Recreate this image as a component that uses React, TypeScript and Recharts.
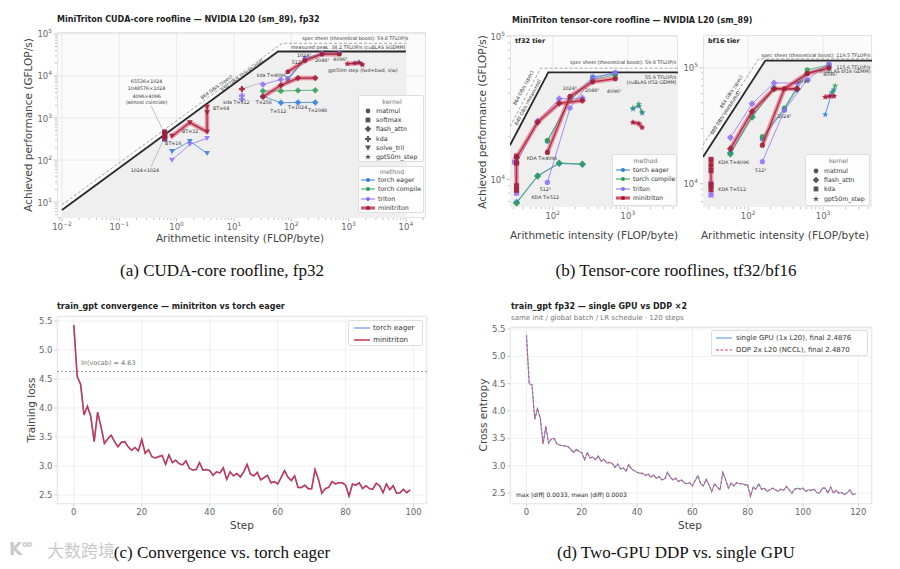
import React from 'react';
import { ComposedChart, LineChart, Line, Scatter, XAxis, YAxis, CartesianGrid, ReferenceLine } from 'recharts';

const FONT = '"DejaVu Sans", sans-serif';
const SERIF = '"Liberation Serif", "DejaVu Serif", serif';

const EAGER = '#2f7ed8';
const COMPILE = '#2f9e55';
const TRITON = '#8f6df2';
const MINI = '#9d1d3a';
const HALO = '#e2435d';
const METHOD_COLOR: Record<string, string> = { eager: EAGER, compile: COMPILE, triton: TRITON, mini: MINI };
const METHOD_ORDER = ['eager', 'compile', 'triton', 'mini'];

type Shape = 'circle' | 'square' | 'diamond' | 'plus' | 'tri' | 'star';
type Method = 'eager' | 'compile' | 'triton' | 'mini';
type Group = { k: Shape; m: Method; xs: number[]; ys: number[] };
type Note = { x: number; y: number; t: string; a?: 'start' | 'middle' | 'end'; r?: number; fs?: number };

// ---------- (a) CUDA-core roofline, fp32 (AI in FLOP/byte, perf in GFLOP/s)
const fp32RoofMeasAI = [0.01, 58.8, 10000];
const fp32RoofMeas = [6.5, 38200, 38200];
const fp32RoofSpecAI = [0.01, 69.2, 10000];
const fp32RoofSpec = [8.64, 59800, 59800];

const fp32SoftmaxAI = [0.62, 0.62, 0.62, 0.62];
const fp32SoftmaxEager = [310, 340, 380, 430];
const fp32SoftmaxCompile = [320, 350, 390, 440];
const fp32SoftmaxTriton = [315, 345, 385, 450];
const fp32SoftmaxMini = [330, 370, 420, 470];
const fp32TrilAI = [0.83, 1.7, 3.4];
const fp32TrilEager = [160, 280, 145];
const fp32TrilTriton = [100, 235, 330];
const fp32TrilMiniAI = [0.83, 1.7, 3.4, 3.4, 3.4];
const fp32TrilMini = [370, 780, 470, 1350, 1850];
const fp32KdaAI = [13.8, 13.8];
const fp32KdaTriton = [3400, 2800];
const fp32KdaMiniAI = [13.8];
const fp32KdaMini = [4900];
const fp32FlashAI = [32, 66, 131, 263];
const fp32FlashEager = [3300, 2300, 2350, 2350];
const fp32FlashCompile = [4400, 4400, 4500, 4600];
const fp32FlashTritonAI = [32, 66];
const fp32FlashTriton = [6300, 8200];
const fp32FlashMini = [3200, 6000, 8900, 8900];
const fp32MatmulAI = [87, 174, 345, 690];
const fp32MatmulEager = [8000, 25000, 33000, 34000];
const fp32MatmulCompile = [8500, 25500, 33500, 34500];
const fp32MatmulTriton = [8700, 26500, 34500, 35000];
const fp32MatmulMini = [12500, 23000, 33000, 33000];
const fp32GptAI = [950, 1300, 1550, 1750];
const fp32GptMini = [19500, 20000, 20500, 18500];
const fp32GptEagerAI = [1250, 1500, 1700];
const fp32GptEager = [20500, 21500, 19000];

// ---------- (b) tensor-core, tf32 tier
const tf32RoofMeasAI = [27, 87.3, 4650];
const tf32RoofMeas = [17300, 55900, 55900];
const tf32RoofSpecAI = [27, 69.2, 4650];
const tf32RoofSpec = [23300, 59800, 59800];

const tf32KdaAI = [33, 33, 33, 33];
const tf32KdaMini = [14500, 13000, 9000, 8400];
const tf32KdaTritonAI = [31, 33];
const tf32KdaTriton = [13200, 8000];
const tf32FlashAI = [33, 63, 122, 248];
const tf32FlashEager = [6900, 10600, 12900, 12700];
const tf32FlashCompile = [6800, 10500, 13000, 12800];
const tf32FlashTriton = [13000, 25500, 36500, 37000];
const tf32FlashMini = [14200, 25000, 34000, 35500];
const tf32MatmulAI = [85, 170, 340, 680];
const tf32MatmulEager = [18500, 36000, 52000, 54500];
const tf32MatmulCompile = [18700, 35500, 50000, 53500];
const tf32MatmulTriton = [9500, 31500, 50500, 56000];
const tf32MatmulMini = [15400, 38000, 48000, 50500];
const tf32GptAI = [1170, 1400, 1550];
const tf32GptEager = [31000, 32500, 29000];
const tf32GptCompile = [31500, 33500, 29500];
const tf32GptMini = [25000, 24500, 23000];

// ---------- (b) tensor-core, bf16 tier
const bf16RoofMeasAI = [25, 170, 4500];
const bf16RoofMeas = [17000, 115600, 115600];
const bf16RoofSpecAI = [25, 138.3, 4500];
const bf16RoofSpec = [21600, 119500, 119500];

const bf16KdaAI = [32, 32, 32, 32, 32];
const bf16KdaMini = [16200, 14500, 13000, 9800, 8900];
const bf16KdaTritonAI = [32, 32];
const bf16KdaTriton = [10000, 8000];
const bf16FlashAI = [58, 113, 222, 450];
const bf16FlashEager = [18500, 38000, 67000, 65000];
const bf16FlashCompile = [18000, 37500, 66000, 66000];
const bf16FlashTriton = [25000, 49000, 74000, 74000];
const bf16FlashMini = [20000, 42000, 66000, 66000];
const bf16MatmulAI = [155, 305, 615, 1200];
const bf16MatmulEager = [24500, 44000, 90000, 104000];
const bf16MatmulCompile = [25500, 45000, 96000, 106000];
const bf16MatmulTriton = [15500, 43000, 79000, 108000];
const bf16MatmulMini = [21500, 66000, 89000, 100000];
const bf16GptAI = [1070, 1230, 1400];
const bf16GptMini = [56000, 57000, 57000];
const bf16GptEagerAI = [1070, 1310, 1400];
const bf16GptEager = [39500, 61000, 65000];
const bf16GptCompileAI = [1350, 1450];
const bf16GptCompile = [62000, 70000];

// ---------- (c) convergence, 100 steps
const convMini = [
  5.43, 4.54, 4.41, 3.88, 4.03, 3.85, 3.42, 3.93, 3.68, 3.39,
  3.47, 3.53, 3.42, 3.33, 3.41, 3.42, 3.33, 3.27, 3.32, 3.26,
  3.46, 3.22, 3.28, 3.16, 3.14, 3.16, 3.18, 3.03, 3.19, 3.06,
  3.10, 3.04, 3.02, 3.09, 2.96, 2.93, 2.94, 3.06, 2.93, 2.94,
  2.92, 2.84, 2.90, 2.88, 2.97, 2.77, 2.90, 2.83, 2.87, 2.81,
  2.90, 3.03, 2.86, 2.83, 2.89, 2.76, 2.80, 2.84, 2.71, 2.73,
  2.69, 2.80, 2.92, 2.81, 2.75, 2.83, 2.63, 2.63, 2.67, 2.61,
  2.61, 2.94, 2.77, 2.53, 2.61, 2.63, 2.73, 2.69, 2.71, 2.71,
  2.67, 2.48, 2.69, 2.67, 2.71, 2.61, 2.66, 2.61, 2.60, 2.70,
  2.66, 2.54, 2.69, 2.59, 2.66, 2.53, 2.54, 2.60, 2.54, 2.59,
];
const convEager = [
  5.43, 4.54, 4.40, 3.88, 4.03, 3.86, 3.42, 3.92, 3.68, 3.39,
  3.47, 3.53, 3.42, 3.34, 3.41, 3.42, 3.33, 3.27, 3.32, 3.26,
  3.45, 3.22, 3.28, 3.16, 3.14, 3.17, 3.18, 3.03, 3.19, 3.06,
  3.10, 3.04, 3.02, 3.09, 2.96, 2.93, 2.94, 3.05, 2.93, 2.94,
  2.92, 2.84, 2.90, 2.88, 2.97, 2.77, 2.90, 2.83, 2.87, 2.81,
  2.90, 3.02, 2.86, 2.83, 2.89, 2.76, 2.80, 2.84, 2.71, 2.73,
  2.69, 2.80, 2.92, 2.81, 2.75, 2.83, 2.63, 2.63, 2.67, 2.61,
  2.61, 2.93, 2.77, 2.53, 2.61, 2.63, 2.73, 2.69, 2.71, 2.71,
  2.67, 2.48, 2.69, 2.67, 2.71, 2.61, 2.66, 2.61, 2.60, 2.70,
  2.66, 2.54, 2.69, 2.59, 2.66, 2.53, 2.54, 2.60, 2.54, 2.59,
];

// ---------- (d) single GPU vs DDP, 120 steps
const ddpSingle = [
  5.39, 4.50, 4.48, 3.85, 4.05, 3.87, 3.40, 3.72, 3.41, 3.49,
  3.50, 3.40, 3.38, 3.37, 3.36, 3.35, 3.30, 3.24, 3.30, 3.26,
  3.24, 3.11, 3.24, 3.14, 3.16, 3.11, 3.18, 3.08, 3.12, 3.05,
  3.06, 3.04, 2.97, 3.03, 2.94, 2.96, 2.90, 3.02, 2.94, 2.91,
  2.88, 2.86, 2.86, 2.82, 2.85, 2.79, 2.83, 2.77, 2.80, 2.74,
  2.76, 2.88, 2.79, 2.74, 2.77, 2.71, 2.74, 2.69, 2.67, 2.69,
  2.63, 2.73, 2.82, 2.67, 2.63, 2.75, 2.65, 2.53, 2.67, 2.61,
  2.56, 2.88, 2.75, 2.59, 2.68, 2.63, 2.69, 2.67, 2.67, 2.65,
  2.65, 2.44, 2.61, 2.57, 2.67, 2.57, 2.59, 2.53, 2.56, 2.59,
  2.56, 2.53, 2.57, 2.55, 2.62, 2.56, 2.50, 2.57, 2.59, 2.57,
  2.59, 2.53, 2.56, 2.55, 2.57, 2.51, 2.50, 2.59, 2.59, 2.50,
  2.61, 2.50, 2.55, 2.50, 2.51, 2.47, 2.51, 2.56, 2.47, 2.488,
];
const ddpDual = [
  5.39, 4.50, 4.48, 3.85, 4.05, 3.87, 3.40, 3.72, 3.41, 3.49,
  3.50, 3.40, 3.38, 3.37, 3.36, 3.35, 3.30, 3.24, 3.30, 3.26,
  3.24, 3.11, 3.24, 3.14, 3.16, 3.11, 3.18, 3.08, 3.12, 3.05,
  3.06, 3.04, 2.97, 3.03, 2.94, 2.96, 2.90, 3.02, 2.94, 2.91,
  2.88, 2.86, 2.86, 2.82, 2.85, 2.79, 2.83, 2.77, 2.80, 2.74,
  2.76, 2.88, 2.79, 2.74, 2.77, 2.71, 2.74, 2.69, 2.67, 2.69,
  2.63, 2.73, 2.82, 2.67, 2.63, 2.75, 2.65, 2.53, 2.67, 2.61,
  2.56, 2.88, 2.75, 2.59, 2.68, 2.63, 2.69, 2.67, 2.67, 2.65,
  2.65, 2.44, 2.61, 2.57, 2.67, 2.57, 2.59, 2.53, 2.56, 2.59,
  2.56, 2.53, 2.57, 2.55, 2.62, 2.56, 2.50, 2.57, 2.59, 2.57,
  2.59, 2.53, 2.56, 2.55, 2.57, 2.51, 2.50, 2.59, 2.59, 2.50,
  2.61, 2.50, 2.55, 2.50, 2.51, 2.47, 2.51, 2.56, 2.47, 2.487,
];

const convSteps = [0, 20, 40, 60, 80, 100];
const ddpSteps = [0, 20, 40, 60, 80, 100, 120];
const lossTicks = [2.5, 3.0, 3.5, 4.0, 4.5, 5.0, 5.5];

const fp32Groups: Group[] = [
  { k: 'square', m: 'eager', xs: fp32SoftmaxAI, ys: fp32SoftmaxEager },
  { k: 'square', m: 'compile', xs: fp32SoftmaxAI, ys: fp32SoftmaxCompile },
  { k: 'square', m: 'triton', xs: fp32SoftmaxAI, ys: fp32SoftmaxTriton },
  { k: 'square', m: 'mini', xs: fp32SoftmaxAI, ys: fp32SoftmaxMini },
  { k: 'tri', m: 'eager', xs: fp32TrilAI, ys: fp32TrilEager },
  { k: 'tri', m: 'triton', xs: fp32TrilAI, ys: fp32TrilTriton },
  { k: 'tri', m: 'mini', xs: fp32TrilMiniAI, ys: fp32TrilMini },
  { k: 'plus', m: 'triton', xs: fp32KdaAI, ys: fp32KdaTriton },
  { k: 'plus', m: 'mini', xs: fp32KdaMiniAI, ys: fp32KdaMini },
  { k: 'diamond', m: 'eager', xs: fp32FlashAI, ys: fp32FlashEager },
  { k: 'diamond', m: 'compile', xs: fp32FlashAI, ys: fp32FlashCompile },
  { k: 'diamond', m: 'triton', xs: fp32FlashTritonAI, ys: fp32FlashTriton },
  { k: 'diamond', m: 'mini', xs: fp32FlashAI, ys: fp32FlashMini },
  { k: 'circle', m: 'eager', xs: fp32MatmulAI, ys: fp32MatmulEager },
  { k: 'circle', m: 'compile', xs: fp32MatmulAI, ys: fp32MatmulCompile },
  { k: 'circle', m: 'triton', xs: fp32MatmulAI, ys: fp32MatmulTriton },
  { k: 'circle', m: 'mini', xs: fp32MatmulAI, ys: fp32MatmulMini },
  { k: 'star', m: 'eager', xs: fp32GptEagerAI, ys: fp32GptEager },
  { k: 'star', m: 'mini', xs: fp32GptAI, ys: fp32GptMini },
];

const tf32Groups: Group[] = [
  { k: 'square', m: 'triton', xs: tf32KdaTritonAI, ys: tf32KdaTriton },
  { k: 'square', m: 'mini', xs: tf32KdaAI, ys: tf32KdaMini },
  { k: 'diamond', m: 'eager', xs: tf32FlashAI, ys: tf32FlashEager },
  { k: 'diamond', m: 'compile', xs: tf32FlashAI, ys: tf32FlashCompile },
  { k: 'diamond', m: 'triton', xs: tf32FlashAI, ys: tf32FlashTriton },
  { k: 'diamond', m: 'mini', xs: tf32FlashAI, ys: tf32FlashMini },
  { k: 'circle', m: 'eager', xs: tf32MatmulAI, ys: tf32MatmulEager },
  { k: 'circle', m: 'compile', xs: tf32MatmulAI, ys: tf32MatmulCompile },
  { k: 'circle', m: 'triton', xs: tf32MatmulAI, ys: tf32MatmulTriton },
  { k: 'circle', m: 'mini', xs: tf32MatmulAI, ys: tf32MatmulMini },
  { k: 'star', m: 'eager', xs: tf32GptAI, ys: tf32GptEager },
  { k: 'star', m: 'compile', xs: tf32GptAI, ys: tf32GptCompile },
  { k: 'star', m: 'mini', xs: tf32GptAI, ys: tf32GptMini },
];

const bf16Groups: Group[] = [
  { k: 'square', m: 'triton', xs: bf16KdaTritonAI, ys: bf16KdaTriton },
  { k: 'square', m: 'mini', xs: bf16KdaAI, ys: bf16KdaMini },
  { k: 'diamond', m: 'eager', xs: bf16FlashAI, ys: bf16FlashEager },
  { k: 'diamond', m: 'compile', xs: bf16FlashAI, ys: bf16FlashCompile },
  { k: 'diamond', m: 'triton', xs: bf16FlashAI, ys: bf16FlashTriton },
  { k: 'diamond', m: 'mini', xs: bf16FlashAI, ys: bf16FlashMini },
  { k: 'circle', m: 'eager', xs: bf16MatmulAI, ys: bf16MatmulEager },
  { k: 'circle', m: 'compile', xs: bf16MatmulAI, ys: bf16MatmulCompile },
  { k: 'circle', m: 'triton', xs: bf16MatmulAI, ys: bf16MatmulTriton },
  { k: 'circle', m: 'mini', xs: bf16MatmulAI, ys: bf16MatmulMini },
  { k: 'star', m: 'eager', xs: bf16GptEagerAI, ys: bf16GptEager },
  { k: 'star', m: 'compile', xs: bf16GptCompileAI, ys: bf16GptCompile },
  { k: 'star', m: 'mini', xs: bf16GptAI, ys: bf16GptMini },
];

const fp32Notes: Note[] = [
  { x: 0.3, y: 7200, t: '65536×1024', a: 'middle' },
  { x: 0.3, y: 4900, t: '1048576×1024', a: 'middle' },
  { x: 0.3, y: 3300, t: '4096×4096', a: 'middle' },
  { x: 0.3, y: 2300, t: '(almost coincide)', a: 'middle' },
  { x: 0.28, y: 55, t: '1024×1024', a: 'middle' },
  { x: 0.63, y: 240, t: 'BT=16' },
  { x: 1.24, y: 470, t: 'BT=32' },
  { x: 4.3, y: 1630, t: 'BT=64' },
  { x: 6.5, y: 2300, t: 'kda T=512' },
  { x: 25, y: 10000, t: 'kda T=4096' },
  { x: 24, y: 2300, t: 'T=256' },
  { x: 43, y: 1380, t: 'T=512' },
  { x: 88, y: 1740, t: 'T=1024' },
  { x: 195, y: 1490, t: 'T=2048' },
  { x: 102, y: 20400, t: '512³' },
  { x: 126, y: 30000, t: '1024³' },
  { x: 260, y: 23000, t: '2048³' },
  { x: 537, y: 25000, t: '4096³' },
  { x: 437, y: 13200, t: 'gpt50m step (fwd+bwd, s/w)' },
  { x: 11000, y: 76000, t: 'spec sheet (theoretical boost): 59.8 TFLOP/s', a: 'end' },
  { x: 9800, y: 47000, t: 'measured peak: 38.2 TFLOP/s (cuBLAS SGEMM)', a: 'end' },
  { x: 5, y: 5400, t: '864 GB/s (spec)', a: 'middle', r: -36 },
  { x: 14, y: 10300, t: '650 GB/s (measured)', a: 'middle', r: -36 },
];
const fp32Leaders = [
  [[0.36, 1950], [0.6, 460]],
  [[0.36, 70], [0.6, 320]],
  [[13.8, 4900], [30, 6900]],
];

const tf32Notes: Note[] = [
  { x: 45, y: 14000, t: 'KDA T=4096' },
  { x: 52, y: 7400, t: 'KDA T=512' },
  { x: 67, y: 8500, t: '512³' },
  { x: 135, y: 43000, t: '1024³' },
  { x: 268, y: 41500, t: '2048³' },
  { x: 525, y: 41000, t: '4096³' },
  { x: 4400, y: 65000, t: 'spec sheet (theoretical boost): 59.8 TFLOP/s', a: 'end' },
  { x: 4400, y: 51000, t: '55.9 TFLOP/s', a: 'end' },
  { x: 4400, y: 47000, t: '(cuBLAS tf32 GEMM)', a: 'end' },
  { x: 41, y: 43500, t: '864 GB/s (spec)', a: 'middle', r: -62 },
  { x: 47, y: 34500, t: '640 GB/s (measured)', a: 'middle', r: -62 },
];

const bf16Notes: Note[] = [
  { x: 40, y: 15200, t: 'KDA T=4096' },
  { x: 40, y: 8900, t: 'KDA T=512' },
  { x: 124, y: 12900, t: '512³' },
  { x: 244, y: 38000, t: '1024³' },
  { x: 450, y: 76000, t: '2048³' },
  { x: 1000, y: 87000, t: '4096³' },
  { x: 4300, y: 128000, t: 'spec sheet (theoretical boost): 119.5 TFLOP/s', a: 'end' },
  { x: 4300, y: 101000, t: '115.6 TFLOP/s', a: 'end' },
  { x: 4300, y: 93000, t: '(cuBLAS bf16 GEMM)', a: 'end' },
  { x: 60, y: 62000, t: '864 GB/s (spec)', a: 'middle', r: -57 },
  { x: 50, y: 40800, t: '680 GB/s (measured)', a: 'middle', r: -57 },
];

function logTicks(lo: number, hi: number) {
  const out: number[] = [];
  for (let e = Math.floor(Math.log10(lo)); e <= Math.ceil(Math.log10(hi)); e++) {
    for (let m = 1; m <= 9; m++) {
      const v = Number((m * Math.pow(10, e)).toPrecision(6));
      if (v >= lo && v <= hi) out.push(v);
    }
  }
  return out;
}
const isMajor = (v: number) => Math.abs(Math.log10(v) - Math.round(Math.log10(v))) < 1e-6;
const supText = (v: number) => String(Math.round(Math.log10(v))).replace('-', '−');

function Marker({ k, cx, cy, color, s, o = 0.85 }: { k: Shape; cx: number; cy: number; color: string; s: number; o?: number }) {
  if (k === 'circle') return <circle cx={cx} cy={cy} r={s} fill={color} fillOpacity={o} />;
  if (k === 'square') return <rect x={cx - s} y={cy - s} width={2 * s} height={2 * s} fill={color} fillOpacity={o} />;
  if (k === 'diamond') {
    const d = s * 1.35;
    return <polygon points={`${cx},${cy - d} ${cx + d},${cy} ${cx},${cy + d} ${cx - d},${cy}`} fill={color} fillOpacity={o} />;
  }
  if (k === 'plus') {
    const a = s * 0.45, b = s * 1.25;
    const p = [[-a, -b], [a, -b], [a, -a], [b, -a], [b, a], [a, a], [a, b], [-a, b], [-a, a], [-b, a], [-b, -a], [-a, -a]];
    return <polygon points={p.map(([x, y]) => `${cx + x},${cy + y}`).join(' ')} fill={color} fillOpacity={o} />;
  }
  if (k === 'tri') {
    return <polygon points={`${cx - s * 1.2},${cy - s} ${cx + s * 1.2},${cy - s} ${cx},${cy + s * 1.1}`} fill={color} fillOpacity={o} />;
  }
  const pts: string[] = [];
  for (let i = 0; i < 10; i++) {
    const r = i % 2 ? s * 0.5 : s * 1.3;
    const ang = (-90 + i * 36) * Math.PI / 180;
    pts.push(`${cx + r * Math.cos(ang)},${cy + r * Math.sin(ang)}`);
  }
  return <polygon points={pts.join(' ')} fill={color} fillOpacity={o} />;
}

const Empty = () => <g />;

function LogTick(props: any) {
  const { x, y, payload, axis, fs } = props;
  const v = payload.value;
  const major = isMajor(v);
  if (axis === 'x') {
    return (
      <g>
        <line x1={x} x2={x} y1={y} y2={y + (major ? 3.5 : 2)} stroke="#9a9a9a" strokeWidth={0.6} />
        {major && (
          <text x={x} y={y + 12} textAnchor="middle" fontSize={fs} fill="#666" fontFamily={FONT}>
            <tspan>10</tspan>
            <tspan dy={-4} fontSize={fs * 0.7}>{supText(v)}</tspan>
          </text>
        )}
      </g>
    );
  }
  return (
    <g>
      <line x1={x} x2={x - (major ? 3.5 : 2)} y1={y} y2={y} stroke="#9a9a9a" strokeWidth={0.6} />
      {major && (
        <text x={x - 5} y={y + 3.5} textAnchor="end" fontSize={fs} fill="#666" fontFamily={FONT}>
          <tspan>10</tspan>
          <tspan dy={-4} fontSize={fs * 0.7}>{supText(v)}</tspan>
        </text>
      )}
    </g>
  );
}

function groupScatters(groups: Group[], key: string, s: number) {
  const out: React.ReactNode[] = [];
  METHOD_ORDER.forEach((m) => {
    groups.filter((g) => g.m === m).forEach((g, i) => {
      const data = g.xs.map((x, j) => ({ x, y: g.ys[j] }));
      const color = METHOD_COLOR[m];
      if (m === 'mini') {
        out.push(
          <Scatter key={`${key}-${m}-h${i}`} data={data} isAnimationActive={false} shape={Empty}
            line={{ stroke: HALO, strokeWidth: 4.5, strokeOpacity: 0.55, strokeLinejoin: 'round', strokeLinecap: 'round' }} />
        );
      }
      out.push(
        <Scatter key={`${key}-${m}-${i}`} data={data} isAnimationActive={false}
          line={{ stroke: color, strokeWidth: m === 'mini' ? 1.3 : 0.9, strokeOpacity: 0.85 }}
          shape={(p: any) => <Marker k={g.k} cx={p.cx} cy={p.cy} color={color} s={s} />} />
      );
    });
  });
  return out;
}

type Box = { left: number; top: number; w: number; h: number };
type Plot = { l: number; r: number; t: number; b: number };

function RoofChart({ box, plot, yw, xh, xDomain, yDomain, measAI, meas, specAI, spec, groups, notes, leaders, ms, fs }: {
  box: Box; plot: Plot; yw: number; xh: number; xDomain: number[]; yDomain: number[];
  measAI: number[]; meas: number[]; specAI: number[]; spec: number[];
  groups: Group[]; notes: Note[]; leaders: number[][][]; ms: number; fs: number;
}) {
  const margin = { left: plot.l - box.left - yw, right: box.left + box.w - plot.r, top: plot.t - box.top, bottom: box.top + box.h - plot.b - xh };
  const xt = logTicks(xDomain[0], xDomain[1]);
  const yt = logTicks(yDomain[0], yDomain[1]);
  const measPts = measAI.map((x, i) => ({ x, y: meas[i] }));
  const specPts = specAI.map((x, i) => ({ x, y: spec[i] }));
  const fillPts = [{ x: measAI[0], y: yDomain[0] }, ...measPts, { x: measAI[measAI.length - 1], y: yDomain[0] }];
  return (
    <>
      <div style={{ position: 'absolute', left: plot.l, top: plot.t, width: plot.r - plot.l, height: plot.b - plot.t, background: '#fbfbfb', boxShadow: 'inset 0 0 0 1px #e3e3e3' }} />
      <div style={{ position: 'absolute', left: box.left, top: box.top }}>
        <ComposedChart width={box.w} height={box.h} margin={margin}>
          <XAxis type="number" dataKey="x" scale="log" domain={xDomain} allowDataOverflow ticks={xt} interval={0}
            tick={(p: any) => <LogTick {...p} axis="x" fs={fs} />} tickLine={false} axisLine={false} tickSize={0} tickMargin={0} height={xh} />
          <YAxis type="number" dataKey="y" scale="log" domain={yDomain} allowDataOverflow ticks={yt} interval={0}
            tick={(p: any) => <LogTick {...p} axis="y" fs={fs} />} tickLine={false} axisLine={false} tickSize={0} tickMargin={0} width={yw} />
          <Scatter data={fillPts} isAnimationActive={false} shape={Empty} line={{ fill: '#efefef', stroke: 'none' }} />
          {xt.filter(isMajor).map((v) => <ReferenceLine key={`gx${v}`} x={v} stroke="#e2e2e2" strokeWidth={0.7} />)}
          {yt.filter(isMajor).map((v) => <ReferenceLine key={`gy${v}`} y={v} stroke="#e2e2e2" strokeWidth={0.7} />)}
          <Scatter data={specPts} isAnimationActive={false} shape={Empty} line={{ stroke: '#9a9a9a', strokeWidth: 0.9, strokeDasharray: '3 2' }} />
          <Scatter data={measPts} isAnimationActive={false} shape={Empty} line={{ stroke: '#2a2a2a', strokeWidth: 1.8 }} />
          {leaders.map((l, i) => (
            <Scatter key={`ld${i}`} data={l.map(([x, y]) => ({ x, y }))} isAnimationActive={false} shape={Empty}
              line={{ stroke: '#9a9a9a', strokeWidth: 0.6 }} />
          ))}
          {groupScatters(groups, 'g', ms)}
          <Scatter data={notes} isAnimationActive={false} shape={(p: any) => {
            const n = p.payload as Note;
            return (
              <text x={p.cx} y={p.cy} textAnchor={n.a ?? 'start'} dominantBaseline="middle" fontSize={n.fs ?? 4.8} fill="#333" fontFamily={FONT}
                transform={n.r ? `rotate(${n.r} ${p.cx} ${p.cy})` : undefined}>{n.t}</text>
            );
          }} />
        </ComposedChart>
      </div>
    </>
  );
}

function T({ x, y, s, children, a = 'start', rot = 0, color = '#333', bold = false, family = FONT }: any) {
  const tx = a === 'start' ? '0%' : a === 'middle' ? '-50%' : '-100%';
  return (
    <div style={{ position: 'absolute', left: x, top: y, transform: `translate(${tx}, -50%) rotate(${rot}deg)`, whiteSpace: 'nowrap', fontSize: s, lineHeight: 1, color, fontWeight: bold ? 700 : 400, fontFamily: family }}>
      {children}
    </div>
  );
}

function MethodIcon({ m }: { m: Method }) {
  const c = METHOD_COLOR[m];
  return (
    <svg width={14} height={7} style={{ display: 'block' }}>
      {m === 'mini' && <line x1={0} y1={3.5} x2={14} y2={3.5} stroke={HALO} strokeOpacity={0.55} strokeWidth={4} />}
      <line x1={0} y1={3.5} x2={14} y2={3.5} stroke={c} strokeWidth={1.1} />
      <circle cx={7} cy={3.5} r={2} fill={c} />
    </svg>
  );
}
function ShapeIcon({ k }: { k: Shape }) {
  return (
    <svg width={8} height={8} style={{ display: 'block' }}>
      <Marker k={k} cx={4} cy={4} s={2.4} color="#555" o={1} />
    </svg>
  );
}

function LegendBox({ left, top, w, h, title, rows, titleY, rowY, dy, iconX, textX, fs }: any) {
  return (
    <div style={{ position: 'absolute', left, top, width: w, height: h, background: 'rgba(255,255,255,0.85)', border: '1px solid #dedede', borderRadius: 2, boxSizing: 'border-box' }}>
      {title && <T x={w / 2} y={titleY} s={fs} a="middle" color="#777">{title}</T>}
      {rows.map((r: any, i: number) => (
        <React.Fragment key={i}>
          <div style={{ position: 'absolute', left: iconX, top: rowY + i * dy, transform: 'translateY(-50%)' }}>{r.icon}</div>
          <T x={textX} y={rowY + i * dy} s={fs} color="#333">{r.label}</T>
        </React.Fragment>
      ))}
    </div>
  );
}

const methodRows = [
  { label: 'torch eager', icon: <MethodIcon m="eager" /> },
  { label: 'torch compile', icon: <MethodIcon m="compile" /> },
  { label: 'triton', icon: <MethodIcon m="triton" /> },
  { label: 'minitriton', icon: <MethodIcon m="mini" /> },
];

function LossChart({ box, plot, yw, xh, data, xDomain, yDomain, xTicks, children }: any) {
  const margin = { left: plot.l - box.left - yw, right: box.left + box.w - plot.r, top: plot.t - box.top, bottom: box.top + box.h - plot.b - xh };
  return (
    <>
      <div style={{ position: 'absolute', left: plot.l, top: plot.t, width: plot.r - plot.l, height: plot.b - plot.t, background: '#fff', boxShadow: 'inset 0 0 0 1px #e6e6e6' }} />
      <div style={{ position: 'absolute', left: box.left, top: box.top }}>
        <LineChart width={box.w} height={box.h} data={data} margin={margin}>
          <CartesianGrid stroke="#ececec" strokeWidth={0.8} />
          <XAxis type="number" dataKey="step" domain={xDomain} allowDataOverflow ticks={xTicks} interval={0} height={xh}
            tick={{ fontSize: 8.5, fill: '#666', fontFamily: FONT }} tickLine={{ stroke: '#aaa', strokeWidth: 0.6 }} tickSize={2.5} tickMargin={2} axisLine={false} />
          <YAxis type="number" domain={yDomain} allowDataOverflow ticks={lossTicks} interval={0} width={yw}
            tickFormatter={(v: number) => v.toFixed(1)}
            tick={{ fontSize: 8.5, fill: '#666', fontFamily: FONT }} tickLine={{ stroke: '#aaa', strokeWidth: 0.6 }} tickSize={2.5} tickMargin={2} axisLine={false} />
          {children}
        </LineChart>
      </div>
    </>
  );
}

export default function App() {
  const convData = convMini.map((v, i) => ({ step: i, mini: v, eager: convEager[i] }));
  const ddpData = ddpSingle.map((v, i) => ({ step: i, single: v, ddp: ddpDual[i] }));
  return (
    <div style={{ position: 'fixed', left: 0, top: 0, width: 900, height: 569, background: '#fff', overflow: 'hidden', fontFamily: FONT }}>
      {/* (a) */}
      <T x={57} y={20} s={8} bold color="#222">MiniTriton CUDA-core roofline — NVIDIA L20 (sm_89), fp32</T>
      <RoofChart box={{ left: 0, top: 0, w: 450, h: 250 }} plot={{ l: 57, r: 426, t: 32, b: 218 }} yw={40} xh={28}
        xDomain={[0.0082, 22400]} yDomain={[4.2, 111000]} measAI={fp32RoofMeasAI} meas={fp32RoofMeas}
        specAI={fp32RoofSpecAI} spec={fp32RoofSpec} groups={fp32Groups} notes={fp32Notes} leaders={fp32Leaders} ms={2.4} fs={8.5} />
      <T x={28} y={125} s={10.5} a="middle" rot={-90} color="#444">Achieved performance (GFLOP/s)</T>
      <T x={240} y={238} s={10.5} a="middle" color="#444">Arithmetic intensity (FLOP/byte)</T>
      <LegendBox left={358} top={95} w={66} h={67} title="kernel" titleY={6} rowY={15} dy={9.2} iconX={5} textX={17} fs={6.3}
        rows={[
          { label: 'matmul', icon: <ShapeIcon k="circle" /> },
          { label: 'softmax', icon: <ShapeIcon k="square" /> },
          { label: 'flash_attn', icon: <ShapeIcon k="diamond" /> },
          { label: 'kda', icon: <ShapeIcon k="plus" /> },
          { label: 'solve_tril', icon: <ShapeIcon k="tri" /> },
          { label: 'gpt50m_step', icon: <ShapeIcon k="star" /> },
        ]} />
      <LegendBox left={358} top={166} w={66} h={47} title="method" titleY={5} rowY={13} dy={9.3} iconX={2} textX={19} fs={6.3} rows={methodRows} />
      <T x={222} y={270} s={17} a="middle" color="#111" family={SERIF}>(a) CUDA-core roofline, fp32</T>

      {/* (b) */}
      <T x={512} y={21} s={8} bold color="#222">MiniTriton tensor-core roofline — NVIDIA L20 (sm_89)</T>
      <RoofChart box={{ left: 470, top: 0, w: 215, h: 250 }} plot={{ l: 510, r: 678, t: 35, b: 207 }} yw={36} xh={24}
        xDomain={[27, 4650]} yDomain={[6400, 102000]} measAI={tf32RoofMeasAI} meas={tf32RoofMeas}
        specAI={tf32RoofSpecAI} spec={tf32RoofSpec} groups={tf32Groups} notes={tf32Notes} leaders={[]} ms={2.6} fs={8.5} />
      <RoofChart box={{ left: 675, top: 0, w: 205, h: 250 }} plot={{ l: 703, r: 872, t: 35, b: 207 }} yw={26} xh={24}
        xDomain={[25, 4500]} yDomain={[6300, 192000]} measAI={bf16RoofMeasAI} meas={bf16RoofMeas}
        specAI={bf16RoofSpecAI} spec={bf16RoofSpec} groups={bf16Groups} notes={bf16Notes} leaders={[]} ms={2.6} fs={8.5} />
      <T x={515} y={41} s={6.5} bold color="#222">tf32 tier</T>
      <T x={708} y={41} s={6.5} bold color="#222">bf16 tier</T>
      <T x={482} y={122} s={10.5} a="middle" rot={-90} color="#444">Achieved performance (GFLOP/s)</T>
      <T x={594} y={235} s={10.5} a="middle" color="#444">Arithmetic intensity (FLOP/byte)</T>
      <T x={785} y={235} s={10.5} a="middle" color="#444">Arithmetic intensity (FLOP/byte)</T>
      <LegendBox left={612} top={154} w={65} h={52} title="method" titleY={6} rowY={15} dy={9.3} iconX={3} textX={20} fs={6.2} rows={methodRows} />
      <LegendBox left={805} top={154} w={65} h={52} title="kernel" titleY={6} rowY={16} dy={9.2} iconX={6} textX={18} fs={6.2}
        rows={[
          { label: 'matmul', icon: <ShapeIcon k="circle" /> },
          { label: 'flash_attn', icon: <ShapeIcon k="diamond" /> },
          { label: 'kda', icon: <ShapeIcon k="square" /> },
          { label: 'gpt50m_step', icon: <ShapeIcon k="star" /> },
        ]} />
      <T x={676} y={270} s={17} a="middle" color="#111" family={SERIF}>(b) Tensor-core rooflines, tf32/bf16</T>

      {/* (c) */}
      <T x={57} y={307} s={8} bold color="#222">train_gpt convergence — minitriton vs torch eager</T>
      <LossChart box={{ left: 0, top: 290, w: 450, h: 240 }} plot={{ l: 57, r: 427, t: 316, b: 504 }} yw={35} xh={20}
        data={convData} xDomain={[-4.95, 103.95]} yDomain={[2.345, 5.586]} xTicks={convSteps}>
        <ReferenceLine y={4.63} stroke="#8a8a8a" strokeDasharray="2 2" strokeWidth={0.8}
          label={(p: any) => (
            <text x={p.viewBox.x + 24} y={p.viewBox.y - 6} fontSize={6.5} fill="#777" fontFamily={FONT}>ln(vocab) = 4.63</text>
          )} />
        <Line dataKey="eager" stroke="#7fb1e3" strokeWidth={1.5} dot={false} isAnimationActive={false} />
        <Line dataKey="mini" stroke="#c7354f" strokeWidth={1.5} dot={false} isAnimationActive={false} />
      </LossChart>
      <T x={31} y={410} s={10.5} a="middle" rot={-90} color="#444">Training loss</T>
      <T x={242} y={525} s={10.5} a="middle" color="#444">Step</T>
      <LegendBox left={348} top={320} w={75} h={26} rowY={7} dy={11.5} iconX={5} textX={24} fs={7.2}
        rows={[
          { label: 'torch eager', icon: <svg width={16} height={4} style={{ display: 'block' }}><line x1={0} y1={2} x2={16} y2={2} stroke="#7fb1e3" strokeWidth={1.5} /></svg> },
          { label: 'minitriton', icon: <svg width={16} height={4} style={{ display: 'block' }}><line x1={0} y1={2} x2={16} y2={2} stroke="#c7354f" strokeWidth={1.5} /></svg> },
        ]} />
      <T x={222} y={552} s={17} a="middle" color="#111" family={SERIF}>(c) Convergence vs. torch eager</T>

      {/* (d) */}
      <T x={511} y={307} s={8} bold color="#222">train_gpt fp32 — single GPU vs DDP ×2</T>
      <T x={511} y={318} s={7} color="#777">same init / global batch / LR schedule · 120 steps</T>
      <LossChart box={{ left: 450, top: 290, w: 450, h: 240 }} plot={{ l: 510, r: 872, t: 327, b: 504 }} yw={30} xh={20}
        data={ddpData} xDomain={[-5.95, 124.95]} yDomain={[2.3, 5.537]} xTicks={ddpSteps}>
        <Line dataKey="single" stroke="#6fa4e0" strokeWidth={1.1} dot={false} isAnimationActive={false} />
        <Line dataKey="ddp" stroke="#d6455b" strokeWidth={1.1} strokeDasharray="3 1.5" strokeOpacity={0.8} dot={false} isAnimationActive={false} />
      </LossChart>
      <T x={516} y={495} s={6} color="#222">max |diff| 0.0033, mean |diff| 0.0003</T>
      <T x={483} y={415} s={10.5} a="middle" rot={-90} color="#444">Cross entropy</T>
      <T x={690} y={525} s={10.5} a="middle" color="#444">Step</T>
      <LegendBox left={711} top={330} w={157} h={26} rowY={7} dy={11.5} iconX={4} textX={24} fs={7}
        rows={[
          { label: 'single GPU (1x L20), final 2.4876', icon: <svg width={16} height={4} style={{ display: 'block' }}><line x1={0} y1={2} x2={16} y2={2} stroke="#6fa4e0" strokeWidth={1.2} /></svg> },
          { label: 'DDP 2x L20 (NCCL), final 2.4870', icon: <svg width={16} height={4} style={{ display: 'block' }}><line x1={0} y1={2} x2={16} y2={2} stroke="#d6455b" strokeWidth={1.2} strokeDasharray="3 1.5" /></svg> },
        ]} />
      <T x={676} y={552} s={17} a="middle" color="#111" family={SERIF}>(d) Two-GPU DDP vs. single GPU</T>

      {/* watermark */}
      <T x={9} y={549} s={17} color="#c9c9c9" bold>K<span style={{ fontSize: 8, verticalAlign: 'top', letterSpacing: -1 }}>oo</span></T>
      <T x={47} y={549} s={17} color="#c9c9c9" family={'"Noto Sans CJK SC", sans-serif'}>大数跨境</T>
    </div>
  );
}
